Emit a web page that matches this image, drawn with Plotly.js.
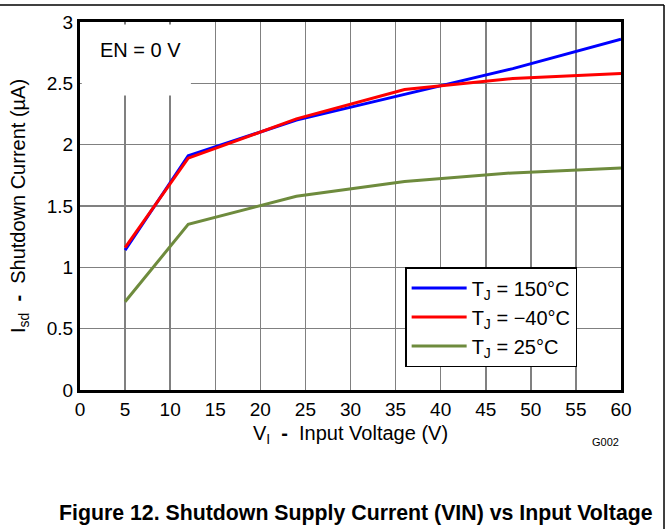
<!DOCTYPE html>
<html>
<head>
<meta charset="utf-8">
<script src="https://cdn.plot.ly/plotly-3.0.1.min.js"></script>
<style>html,body{margin:0;padding:0;background:#fff;}#chart{width:669px;height:529px;}</style>
</head>
<body>
<div id="chart"></div>
<script>
// Data
var voltage = [5, 12, 24, 36, 48, 60];
var current150 = [1.14, 1.91, 2.20, 2.41, 2.62, 2.86];
var currentMinus40 = [1.16, 1.89, 2.21, 2.45, 2.54, 2.58];
var current25 = [0.72, 1.35, 1.58, 1.70, 1.77, 1.81];
var seriesNames = ['T<sub>J</sub> = 150°C', 'T<sub>J</sub> = −40°C', 'T<sub>J</sub> = 25°C'];
var xTicks = [0, 5, 10, 15, 20, 25, 30, 35, 40, 45, 50, 55, 60];
var yTicks = [0, 0.5, 1, 1.5, 2, 2.5, 3];
var yTickText = ['0', '0.5', '1', '1.5', '2', '2.5', '3'];

var font = 'Arial, Liberation Sans, sans-serif';
var NB = '\u00a0';

var traces = [
  {x: voltage, y: current150, name: seriesNames[0], mode: 'lines', line: {color: '#0000ff', width: 3}},
  {x: voltage, y: currentMinus40, name: seriesNames[1], mode: 'lines', line: {color: '#ff0000', width: 3}},
  {x: voltage, y: current25, name: seriesNames[2], mode: 'lines', line: {color: '#6e8b3d', width: 3}}
];

var layout = {
  width: 669, height: 529,
  margin: {l: 80, r: 48, t: 22, b: 139},
  paper_bgcolor: '#fff', plot_bgcolor: '#fff',
  font: {family: font, size: 19, color: '#000'},
  showlegend: true,
  legend: {
    x: 0.601, y: 0.334, xanchor: 'left', yanchor: 'top',
    bgcolor: '#fff', bordercolor: '#000', borderwidth: 1.5,
    font: {family: font, size: 20, color: '#000'},
    tracegroupgap: 0, itemwidth: 55
  },
  xaxis: {
    range: [0, 60], tickvals: xTicks, ticks: '', showgrid: true,
    gridcolor: '#808080', gridwidth: 1.5,
    showline: true, linecolor: '#000', linewidth: 3, mirror: true,
    zeroline: false, fixedrange: true,
    tickfont: {family: font, size: 19, color: '#000'},
    title: {text: 'V<sub>I</sub>' + NB + NB + '<b>-</b>' + NB + NB + 'Input Voltage (V)', font: {family: font, size: 20, color: '#000'}, standoff: 8}
  },
  yaxis: {
    range: [0, 3], tickvals: yTicks, ticktext: yTickText, ticks: '', showgrid: true,
    gridcolor: '#808080', gridwidth: 1.5,
    showline: true, linecolor: '#000', linewidth: 3, mirror: true,
    zeroline: false, fixedrange: true,
    tickfont: {family: font, size: 19, color: '#000'},
    title: {text: 'I<sub>sd</sub>' + NB + NB + '<b>-</b>' + NB + NB + 'Shutdown Current (µA)', font: {family: font, size: 20, color: '#000'}, standoff: 16}
  },
  shapes: [
    {type: 'rect', xref: 'x', yref: 'y', x0: 0.2, x1: 12.3, y0: 2.4, y1: 2.98,
     fillcolor: '#fff', line: {width: 0}, layer: 'between'},
    {type: 'line', xref: 'paper', yref: 'paper', x0: -0.16, x1: 1.0795, y0: 1.046, y1: 1.046,
     line: {color: '#000', width: 1.5}},
    {type: 'line', xref: 'paper', yref: 'paper', x0: 1.0795, x1: 1.0795, y0: -0.4, y1: 1.046,
     line: {color: '#000', width: 1.5}}
  ],
  annotations: [
    {text: 'EN = 0 V', xref: 'x', yref: 'y', x: 2, y: 2.77, xanchor: 'left', yanchor: 'middle',
     showarrow: false, font: {family: font, size: 20, color: '#000'}},
    {text: 'G002', xref: 'paper', yref: 'paper', x: 1.0, y: -0.14, xanchor: 'right', yanchor: 'middle',
     showarrow: false, font: {family: font, size: 11, color: '#000'}},
    {text: '<b>Figure 12. Shutdown Supply Current (VIN) vs Input Voltage</b>', xref: 'paper', yref: 'paper',
     x: 0.511, y: -0.334, xanchor: 'center', yanchor: 'middle', showarrow: false,
     font: {family: font, size: 21.3, color: '#000'}}
  ]
};

Plotly.newPlot('chart', traces, layout, {displayModeBar: false, staticPlot: true});
</script>
</body>
</html>
